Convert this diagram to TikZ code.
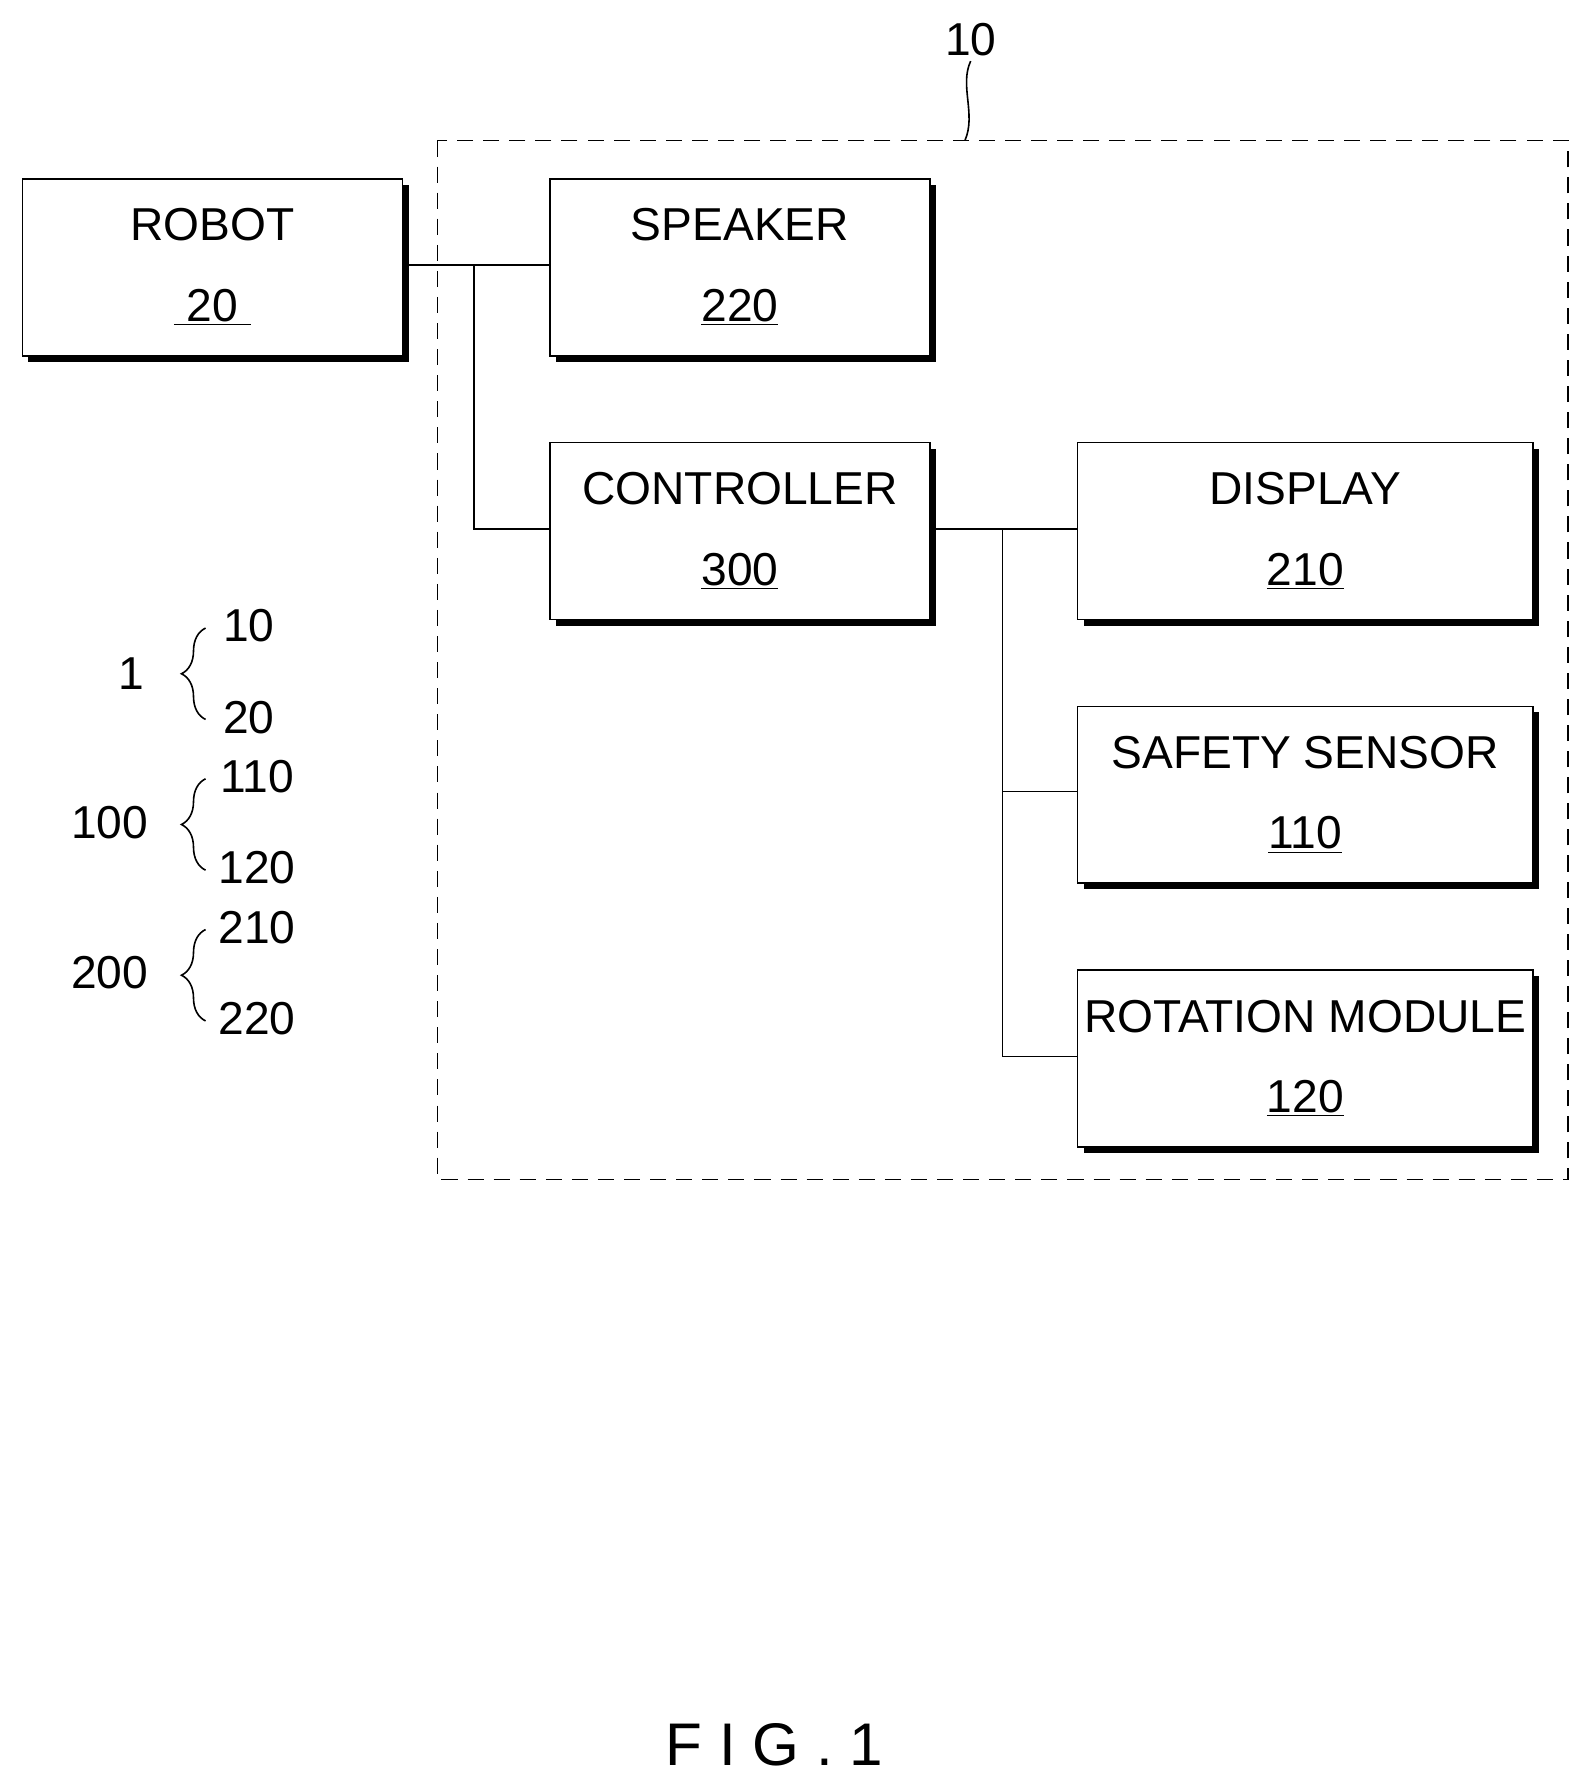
\documentclass[tikz,border=0pt]{standalone}
\usepackage{fontspec}
\setmainfont{Liberation Sans}
\usetikzlibrary{shadows,decorations.pathreplacing,decorations.pathmorphing}

\tikzset{
  blk/.style={draw, thick, fill=white, minimum height=3.1cm, align=center,
    font=\fontsize{23}{40}\selectfont,
    drop shadow={shadow xshift=3pt, shadow yshift=-3pt, fill=black, opacity=1}},
  wire/.style={line width=0.8pt},
  lbl/.style={font=\fontsize{23}{28}\selectfont},
  brc/.style={decorate, decoration={brace, amplitude=12pt}, line width=0.8pt}
}

\begin{document}
\begin{tikzpicture}[x=0.02cm, y=-0.02cm]
  \useasboundingbox (0,0) rectangle (1388,1564);

  % housing 10
  \draw[wire, dash pattern=on 8pt off 5pt] (383,123) rectangle (1373,1033);
  \node[lbl] (n10) at (850,35) {10};
  \coordinate (h10) at (845,123);
  \draw[wire] (n10.south) ++(0,-2) .. controls (840,75) and (855,100) .. (h10);

  % blocks
  \node[blk, minimum width=6.66cm] (robot) at (186,234) {ROBOT\\\underline{\ 20\ }};
  \node[blk, minimum width=6.66cm] (spk) at (648,234) {SPEAKER\\\underline{220}};
  \node[blk, minimum width=6.66cm] (ctrl) at (648,465) {CONTROLLER\\\underline{300}};
  \node[blk, minimum width=7.98cm] (disp) at (1143,465) {DISPLAY\\\underline{210}};
  \node[blk, minimum width=7.98cm] (safe) at (1143,696) {SAFETY SENSOR\\\underline{110}};
  \node[blk, minimum width=7.98cm] (rot) at (1143,927) {ROTATION MODULE\\\underline{120}};

  % connectors
  \coordinate (j1) at (415,232);
  \coordinate (j2) at (878,463);
  \draw[wire] (robot.east |- j1) -- (spk.west |- j1);
  \draw[wire] (j1) |- (ctrl.west |- 0,463);
  \draw[wire] (ctrl.east |- j2) -- (disp.west |- j2);
  \draw[wire] (j2) |- (safe.west |- 0,693);
  \draw[wire] (j2) |- (rot.west |- 0,925);

  % legend
  \node[lbl] (g1) at (115,590) {1};
  \node[lbl] (g1a) at (218,548) {10};
  \node[lbl] (g1b) at (218,628) {20};
  \draw[brc] (180,630) -- (180,550);
  \node[lbl] (g2) at (96,720) {100};
  \node[lbl] (g2a) at (225,680) {110};
  \node[lbl] (g2b) at (225,760) {120};
  \draw[brc] (180,762) -- (180,682);
  \node[lbl] (g3) at (96,852) {200};
  \node[lbl] (g3a) at (225,812) {210};
  \node[lbl] (g3b) at (225,892) {220};
  \draw[brc] (180,894) -- (180,814);

  \node[font=\fontsize{30}{36}\selectfont] (fig) at (678,1528) {F I G . 1};
\end{tikzpicture}
\end{document}
